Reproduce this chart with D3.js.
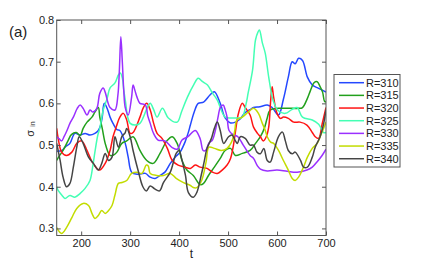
<!DOCTYPE html>
<html>
<head>
<meta charset="utf-8">
<script src="https://cdn.jsdelivr.net/npm/d3@7"></script>
<style>
  body { margin: 0; background: #fff; }
  svg { font-family: "Liberation Sans", Arial, sans-serif; }
</style>
</head>
<body>
<div id="chart"></div>
<script>
// series labels + colours (legend order)
const seriesNames = ['R=310', 'R=315', 'R=320', 'R=325', 'R=330', 'R=335', 'R=340'];
const seriesColors = ['#2448ff', '#22a01c', '#ff1414', '#44ffb4', '#9a30ff', '#c2dc00', '#454545'];

const xTicks = [200, 300, 400, 500, 600, 700];
const yTicks = [0.3, 0.4, 0.5, 0.6, 0.7, 0.8];

// [t, sigma_in]
const r310 = [[150,0.485],[161,0.487],[167,0.495],[177,0.504],[187,0.528],[198,0.524],[208,0.528],[218,0.524],[228,0.528],[235,0.535],[239,0.545],[243,0.567],[247,0.60],[253,0.588],[259,0.567],[265,0.552],[273,0.537],[279,0.535],[290,0.504],[296,0.471],[303,0.435],[315,0.43],[331,0.432],[341,0.423],[351,0.42],[361,0.427],[371,0.435],[382,0.456],[392,0.471],[402,0.483],[412,0.507],[419,0.531],[423,0.548],[431,0.58],[439,0.60],[450,0.603],[463,0.62],[472,0.628],[484,0.60],[494,0.565],[505,0.553],[515,0.555],[524,0.562],[535,0.578],[545,0.585],[552,0.59],[565,0.592],[580,0.596],[590,0.59],[603,0.572],[613,0.61],[623,0.663],[631,0.70],[637,0.695],[644,0.708],[652,0.703],[662,0.663],[672,0.644],[685,0.636],[700,0.627]];
const r315 = [[150,0.463],[156,0.475],[163,0.487],[173,0.51],[180,0.525],[190,0.53],[198,0.523],[204,0.54],[212,0.555],[222,0.567],[228,0.579],[235,0.59],[238,0.567],[243,0.54],[250,0.50],[259,0.475],[266,0.476],[273,0.483],[283,0.504],[293,0.51],[306,0.52],[320,0.487],[334,0.463],[347,0.456],[361,0.48],[375,0.51],[386,0.52],[396,0.504],[406,0.463],[416,0.44],[429,0.427],[443,0.405],[450,0.408],[460,0.427],[470,0.444],[484,0.468],[494,0.487],[505,0.492],[515,0.475],[529,0.48],[545,0.487],[556,0.504],[566,0.52],[574,0.54],[580,0.565],[586,0.584],[603,0.588],[632,0.588],[644,0.588],[652,0.59],[662,0.612],[668,0.63],[676,0.65],[682,0.652],[688,0.64],[693,0.627],[697,0.605],[700,0.603]];
const r320 = [[150,0.54],[153,0.516],[160,0.483],[170,0.475],[181,0.483],[191,0.504],[201,0.51],[212,0.487],[222,0.46],[232,0.444],[238,0.44],[249,0.456],[259,0.487],[265,0.52],[272,0.545],[279,0.567],[286,0.576],[293,0.56],[300,0.528],[306,0.53],[320,0.567],[327,0.59],[334,0.60],[341,0.584],[348,0.552],[355,0.528],[365,0.516],[376,0.492],[386,0.463],[398,0.452],[412,0.447],[423,0.444],[433,0.452],[443,0.447],[457,0.444],[468,0.435],[478,0.432],[488,0.44],[498,0.452],[505,0.468],[511,0.50],[516,0.54],[521,0.575],[529,0.60],[535,0.59],[545,0.572],[552,0.543],[560,0.528],[566,0.52],[572,0.51],[578,0.52],[583,0.543],[587,0.607],[590,0.64],[593,0.615],[600,0.576],[607,0.564],[613,0.567],[623,0.564],[634,0.555],[647,0.555],[661,0.548],[672,0.53],[678,0.52],[685,0.516],[692,0.55],[700,0.59]];
const r325 = [[150,0.40],[153,0.391],[161,0.379],[167,0.372],[177,0.379],[187,0.375],[198,0.384],[208,0.396],[218,0.415],[224,0.452],[228,0.483],[234,0.524],[238,0.54],[245,0.584],[253,0.612],[259,0.637],[269,0.649],[276,0.668],[280,0.673],[284,0.661],[287,0.632],[291,0.60],[295,0.567],[300,0.552],[310,0.548],[320,0.552],[327,0.567],[335,0.59],[341,0.60],[348,0.585],[355,0.567],[366,0.588],[378,0.565],[396,0.555],[405,0.58],[417,0.615],[430,0.645],[439,0.66],[448,0.652],[458,0.644],[468,0.625],[478,0.608],[494,0.567],[509,0.565],[520,0.565],[529,0.567],[537,0.60],[541,0.625],[550,0.68],[556,0.752],[561,0.771],[564,0.776],[570,0.745],[576,0.72],[583,0.663],[592,0.607],[602,0.583],[617,0.576],[630,0.585],[641,0.59],[652,0.567],[672,0.56],[685,0.55],[695,0.53],[700,0.53]];
const r330 = [[150,0.52],[155,0.515],[160,0.51],[165,0.52],[171,0.535],[177,0.552],[184,0.567],[192,0.588],[198,0.596],[204,0.588],[212,0.572],[218,0.584],[224,0.579],[232,0.588],[238,0.624],[245,0.637],[249,0.627],[259,0.59],[269,0.584],[275,0.62],[278,0.68],[281,0.76],[284,0.70],[287,0.63],[290,0.59],[296,0.572],[303,0.615],[306,0.644],[310,0.63],[314,0.615],[320,0.60],[331,0.596],[336,0.57],[341,0.552],[347,0.53],[357,0.512],[371,0.51],[386,0.494],[396,0.49],[406,0.512],[418,0.52],[433,0.535],[443,0.515],[449,0.487],[454,0.487],[461,0.505],[468,0.512],[475,0.54],[480,0.57],[484,0.59],[490,0.596],[494,0.585],[498,0.567],[502,0.535],[510,0.525],[520,0.52],[531,0.50],[545,0.475],[552,0.468],[560,0.45],[566,0.442],[580,0.438],[600,0.44],[621,0.437],[641,0.435],[661,0.44],[672,0.447],[682,0.46],[692,0.475],[700,0.49]];
const r335 = [[150,0.302],[160,0.288],[170,0.302],[181,0.326],[191,0.348],[204,0.36],[215,0.355],[222,0.336],[228,0.324],[235,0.331],[242,0.343],[249,0.336],[256,0.343],[263,0.355],[269,0.38],[276,0.408],[283,0.41],[293,0.415],[303,0.432],[313,0.435],[324,0.432],[333,0.452],[337,0.45],[341,0.432],[354,0.427],[368,0.427],[382,0.432],[394,0.42],[409,0.41],[423,0.403],[429,0.398],[436,0.398],[446,0.415],[455,0.459],[461,0.495],[472,0.492],[486,0.487],[498,0.492],[507,0.507],[513,0.53],[518,0.56],[529,0.567],[541,0.579],[552,0.588],[562,0.576],[570,0.552],[576,0.535],[580,0.52],[587,0.507],[593,0.504],[603,0.487],[613,0.463],[623,0.44],[631,0.42],[637,0.415],[644,0.423],[654,0.447],[662,0.471],[672,0.492],[682,0.504],[688,0.52],[695,0.54],[700,0.555]];
const r340 = [[150,0.504],[157,0.463],[163,0.423],[170,0.40],[177,0.408],[184,0.447],[191,0.495],[196,0.52],[204,0.504],[215,0.471],[225,0.456],[235,0.44],[242,0.456],[249,0.48],[256,0.463],[263,0.471],[269,0.52],[276,0.495],[283,0.52],[290,0.53],[293,0.54],[300,0.52],[306,0.487],[316,0.44],[326,0.40],[333,0.39],[341,0.402],[350,0.395],[360,0.39],[368,0.41],[382,0.435],[394,0.48],[400,0.487],[405,0.468],[413,0.427],[419,0.386],[429,0.375],[436,0.386],[445,0.427],[451,0.459],[457,0.492],[466,0.516],[472,0.54],[478,0.555],[484,0.535],[491,0.504],[501,0.52],[508,0.524],[515,0.51],[519,0.504],[525,0.52],[535,0.516],[545,0.50],[552,0.50],[559,0.483],[566,0.479],[573,0.492],[580,0.463],[586,0.459],[593,0.483],[603,0.52],[611,0.531],[617,0.51],[623,0.487],[631,0.479],[637,0.483],[648,0.463],[654,0.447],[662,0.447],[672,0.471],[678,0.495],[688,0.52],[695,0.55],[700,0.585]];

const seriesValues = [r310, r315, r320, r325, r330, r335, r340];

const width = 436, height = 272;
const margin = { top: 20, right: 110, bottom: 36.5, left: 56.7 };
const innerW = width - margin.left - margin.right;
const innerH = height - margin.top - margin.bottom;
const axisColor = '#555';

const svg = d3.select('#chart')
    .append('svg')
    .attr('width', width)
    .attr('height', height);

const chart = svg.append('g')
    .attr('transform', `translate(${margin.left},${margin.top})`);

const xScale = d3.scaleLinear().domain([150, 700]).range([0, innerW]);
const yScale = d3.scaleLinear().domain([0.283, 0.8]).range([innerH, 0]);

chart.append('clipPath').attr('id', 'clip')
    .append('rect').attr('width', innerW).attr('height', innerH);

const line = d3.line()
    .x(d => xScale(d[0]))
    .y(d => yScale(d[1]))
    .curve(d3.curveCatmullRom.alpha(0.5));

chart.append('g')
    .attr('clip-path', 'url(#clip)')
    .selectAll('path')
    .data(seriesValues)
    .join('path')
    .attr('d', d => line(d))
    .attr('fill', 'none')
    .attr('stroke', (d, i) => seriesColors[i])
    .attr('stroke-width', 1.5)
    .attr('stroke-linejoin', 'round');

// matlab style box: ticks inside on all four sides
const fmt = d3.format('.1f');
const axes = [
    { call: d3.axisBottom(xScale).tickValues(xTicks).tickPadding(3.5), at: `translate(0,${innerH})` },
    { call: d3.axisTop(xScale).tickValues(xTicks).tickFormat(''), at: 'translate(0,0)' },
    { call: d3.axisLeft(yScale).tickValues(yTicks).tickFormat(fmt).tickPadding(2.5), at: 'translate(0,0)' },
    { call: d3.axisRight(yScale).tickValues(yTicks).tickFormat(''), at: `translate(${innerW},0)` }
];
axes.forEach(a => {
    const g = chart.append('g')
        .attr('transform', a.at)
        .call(a.call.tickSizeInner(-4).tickSizeOuter(0));
    g.select('.domain').remove();
    g.selectAll('line').attr('stroke', axisColor);
    g.selectAll('text').attr('fill', '#222').style('font-size', '11px');
});

chart.append('rect')
    .attr('width', innerW)
    .attr('height', innerH)
    .attr('fill', 'none')
    .attr('stroke', axisColor)
    .attr('stroke-width', 1);

// axis labels
svg.append('text')
    .attr('x', margin.left + innerW / 2)
    .attr('y', 258)
    .attr('text-anchor', 'middle')
    .attr('fill', '#222')
    .style('font-size', '12px')
    .text('t');

const ylab = svg.append('text')
    .attr('transform', 'translate(34,129) rotate(-90)')
    .attr('text-anchor', 'middle')
    .attr('fill', '#222');
ylab.append('tspan').style('font-size', '11px').text('σ');
ylab.append('tspan').style('font-size', '7px').attr('dx', 3).attr('dy', 0.5).text('in');

svg.append('text')
    .attr('x', 9)
    .attr('y', 37)
    .attr('fill', '#222')
    .style('font-size', '15px')
    .text('(a)');

// legend
const legend = svg.append('g').attr('transform', 'translate(334,74.5)');
legend.append('rect')
    .attr('width', 66)
    .attr('height', 92.5)
    .attr('fill', '#fff')
    .attr('stroke', axisColor);

const item = legend.selectAll('.item')
    .data(seriesNames)
    .join('g')
    .attr('class', 'item')
    .attr('transform', (d, i) => `translate(0,${8.2 + i * 12.67})`);
item.append('line')
    .attr('x1', 5).attr('x2', 30)
    .attr('stroke', (d, i) => seriesColors[i])
    .attr('stroke-width', 1.5);
item.append('text')
    .attr('x', 32)
    .attr('dy', '0.36em')
    .attr('fill', '#222')
    .style('font-size', '11px')
    .text(d => d);
</script>
</body>
</html>
